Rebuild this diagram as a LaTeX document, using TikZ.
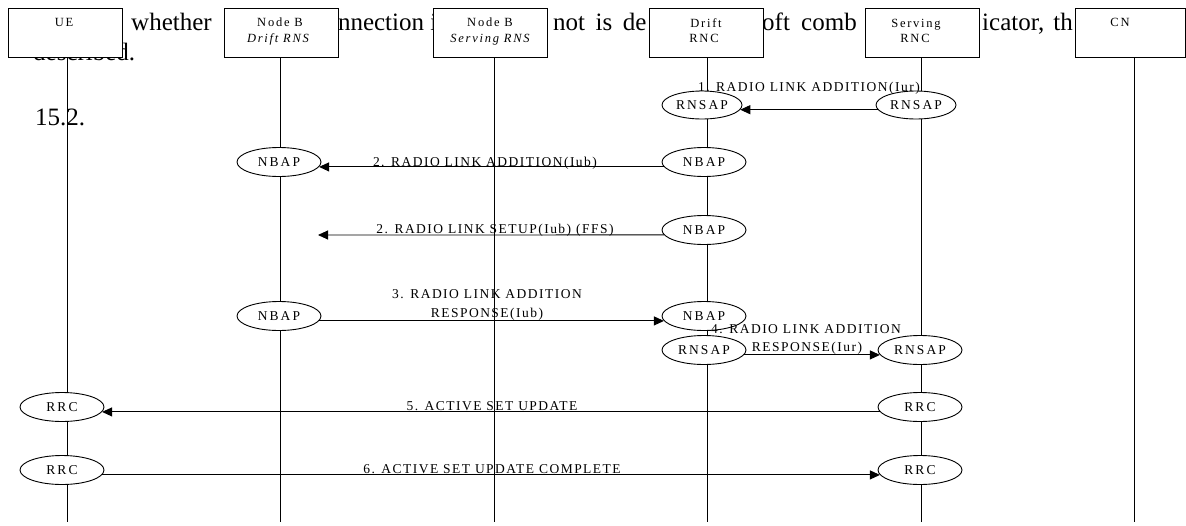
\documentclass[tikz,border=0pt]{standalone}
\usepackage{fontspec}
\setmainfont{Liberation Serif}
\newfontfamily\boxfont[LetterSpace=14]{Liberation Serif}
\newfontfamily\msgfont[LetterSpace=11]{Liberation Serif}
\newfontfamily\protofont[LetterSpace=15]{Liberation Serif}
\usetikzlibrary{arrows.meta,shapes.geometric}

\begin{document}
\begin{tikzpicture}[x=1pt,y=-1pt,
  entity/.style={draw, fill=white, minimum width=114pt, minimum height=49pt, inner sep=0pt, line width=0.9pt},
  etxt/.style={anchor=base, inner sep=0pt, font=\boxfont\fontsize{12.5}{14}\selectfont},
  proto/.style={ellipse, draw, fill=white, minimum width=84pt, minimum height=29pt, inner sep=0pt, line width=0.9pt, font=\protofont\fontsize{13.5}{15}\selectfont},
  protosm/.style={proto, minimum width=80pt, minimum height=28pt},
  life/.style={line width=0.9pt},
  msg/.style={line width=0.9pt, -{Triangle[length=10pt,width=9pt]}},
  mlabel/.style={anchor=base, inner sep=0pt, font=\msgfont\fontsize{13.5}{15}\selectfont},
  body/.style={anchor=base west, inner sep=0pt, font=\fontsize{25}{30}\selectfont}
]
\useasboundingbox (0,0) rectangle (1186,525);

% running text behind the header boxes
\node[body] (p1) at (131,30) {whether};
\node[body, anchor=base east] (p2) at (437.5,30) {nnection i};
\node[body] (p3) at (553,30) {\spaceskip=10.5pt not is de};
\node[body] (p5) at (762,30) {oft};
\node[body] (p6) at (801,30) {comb};
\node[body] (p7) at (982,30) {icator,};
\node[body, anchor=base east] (p8) at (1073,30) {th};
\node[body] (p9) at (33,60) {described.};
\node[body] (p10) at (35,125) {15.2.};

% header boxes
\node[entity] (ue)   at (65,32.5) {};
\node[entity] (nbd)  at (281,32.5) {};
\node[entity] (nbs)  at (490.5,32.5) {};
\node[entity] (drnc) at (706,32.5) {};
\node[entity] (srnc) at (922.5,32.5) {};
\node[entity, minimum width=110pt] (cn) at (1130,32.5) {};

\node[etxt] (ueT)   at (64,26.7) {UE};
\node[etxt] (nbdT)  at (280,26.7) {Node B};
\node[etxt] (nbdS)  at (278,42) {\itshape Drift RNS};
\node[etxt] (nbsT)  at (490,26.7) {Node B};
\node[etxt] (nbsS)  at (490,42) {\itshape Serving RNS};
\node[etxt] (drncT) at (706,27) {Drift};
\node[etxt] (drncS) at (704,42) {RNC};
\node[etxt] (srncT) at (916,27) {Serving};
\node[etxt] (srncS) at (915,42) {RNC};
\node[etxt] (cnT)   at (1120,26.7) {CN};

% lifelines
\coordinate (ueE)   at (67,522);
\coordinate (nbdE)  at (280,522);
\coordinate (nbsE)  at (494,522);
\coordinate (drncE) at (707,522);
\coordinate (srncE) at (921,522);
\coordinate (cnE)   at (1134,522);
\draw[life] (ue.south -| ueE) -- (ueE);
\draw[life] (nbd.south -| nbdE) -- (nbdE);
\draw[life] (nbs.south -| nbsE) -- (nbsE);
\draw[life] (drnc.south -| drncE) -- (drncE);
\draw[life] (srnc.south -| srncE) -- (srncE);
\draw[life] (cn.south -| cnE) -- (cnE);

% protocol end points
\node[protosm] (rs1d) at (702,105) {RNSAP};
\node[protosm] (rs1s) at (916,105) {RNSAP};
\node[proto] (nb1b) at (279,162) {NBAP};
\node[proto] (nb1d) at (704,162) {NBAP};
\node[proto] (nb2d) at (704,230) {NBAP};
\node[proto] (nb3b) at (279,316) {NBAP};
\node[proto] (nb3d) at (704,316) {NBAP};
\node[proto] (rs2d) at (704,350) {RNSAP};
\node[proto] (rs2s) at (920,350) {RNSAP};
\node[proto] (rr1u) at (62,407) {RRC};
\node[proto] (rr1s) at (920,407) {RRC};
\node[proto] (rr2u) at (62,470) {RRC};
\node[proto] (rr2s) at (920,470) {RRC};
\coordinate (ffs) at (318,235);

% messages
\draw[msg] (rs1s.187) -- (rs1d.353);
\draw[msg] (nb1d.187) -- (nb1b.353);
\draw[msg] (nb2d.187) -- (ffs);
\draw[msg] (nb3b.353) -- (nb3d.187);
\draw[msg] (rs2d.353) -- (rs2s.187);
\draw[msg] (rr1s.187) -- (rr1u.353);
\draw[msg] (rr2u.353) -- (rr2s.187);

% message labels
\node[mlabel] (m1)  at (809,91)  {1. RADIO LINK ADDITION(Iur)};
\node[mlabel] (m2)  at (485,166) {2. RADIO LINK ADDITION(Iub)};
\node[mlabel] (m2b) at (495,233) {2. RADIO LINK SETUP(Iub) (FFS)};
\node[mlabel] (m3a) at (487,298) {3. RADIO LINK ADDITION};
\node[mlabel] (m3b) at (487,317) {RESPONSE(Iub)};
\node[mlabel] (m4a) at (806,333) {4. RADIO LINK ADDITION};
\node[mlabel] (m4b) at (807,351) {RESPONSE(Iur)};
\node[mlabel] (m5)  at (492,410) {5. ACTIVE SET UPDATE};
\node[mlabel] (m6)  at (492,473) {6. ACTIVE SET UPDATE COMPLETE};
\end{tikzpicture}
\end{document}
